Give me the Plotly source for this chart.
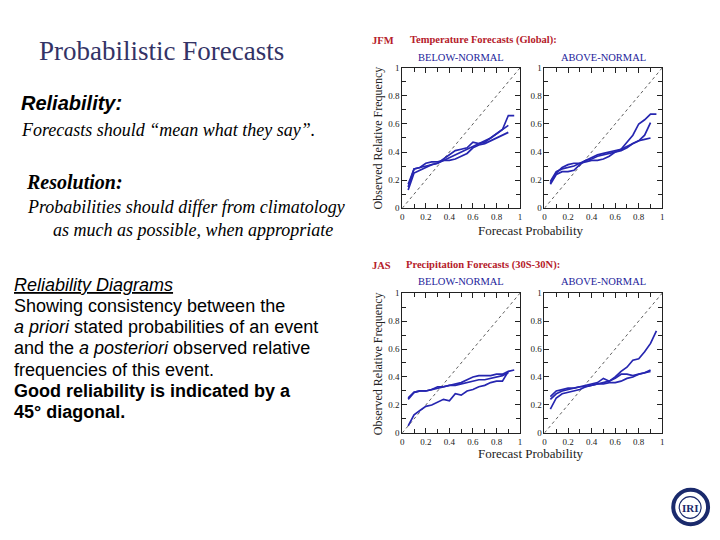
import plotly.graph_objects as go

# ---------------- data ----------------
prob_tick_vals = [0, 0.2, 0.4, 0.6, 0.8, 1]
prob_tick_text = ["0", "0.2", "0.4", "0.6", "0.8", "1"]
diagonal = [0, 1]

x_base = [0.05, 0.1, 0.15, 0.2, 0.25, 0.3, 0.35, 0.4, 0.45, 0.5, 0.55,
          0.6, 0.65, 0.7, 0.75, 0.8, 0.85, 0.9]
x_ext = x_base + [0.95]

# JFM Temperature, below-normal
jfm_below_1 = [0.17, 0.28, 0.29, 0.30, 0.31, 0.32, 0.34, 0.36, 0.38, 0.40, 0.42,
               0.44, 0.46, 0.48, 0.50, 0.53, 0.56, 0.66, 0.66]
jfm_below_2 = [0.13, 0.25, 0.27, 0.29, 0.31, 0.32, 0.35, 0.38, 0.41, 0.42, 0.43,
               0.47, 0.46, 0.47, 0.50, 0.53, 0.56, 0.59]
jfm_below_3 = [0.15, 0.28, 0.29, 0.32, 0.33, 0.33, 0.34, 0.34, 0.35, 0.37, 0.39,
               0.43, 0.45, 0.46, 0.48, 0.50, 0.52, 0.54]

# JFM Temperature, above-normal
jfm_above_1 = [0.19, 0.26, 0.28, 0.29, 0.30, 0.32, 0.34, 0.36, 0.38, 0.39, 0.40,
               0.41, 0.42, 0.47, 0.52, 0.60, 0.63, 0.67, 0.67]
jfm_above_2 = [0.17, 0.24, 0.26, 0.26, 0.27, 0.31, 0.34, 0.35, 0.37, 0.38, 0.39,
               0.40, 0.41, 0.43, 0.46, 0.48, 0.52, 0.61]
jfm_above_3 = [0.18, 0.25, 0.29, 0.31, 0.32, 0.32, 0.33, 0.34, 0.34, 0.35, 0.37,
               0.40, 0.42, 0.44, 0.46, 0.48, 0.49, 0.50]

# JAS Precipitation, below-normal
jas_below_1 = [0.25, 0.29, 0.30, 0.30, 0.31, 0.33, 0.33, 0.34, 0.35, 0.36, 0.38,
               0.40, 0.41, 0.41, 0.41, 0.42, 0.42, 0.44, 0.45]
jas_below_2 = [0.24, 0.29, 0.30, 0.30, 0.31, 0.32, 0.33, 0.34, 0.34, 0.35, 0.36,
               0.37, 0.38, 0.38, 0.39, 0.40, 0.41, 0.43]
jas_below_3 = [0.05, 0.13, 0.16, 0.19, 0.20, 0.22, 0.24, 0.23, 0.28, 0.27, 0.30,
               0.31, 0.33, 0.34, 0.36, 0.37, 0.37, 0.44]

# JAS Precipitation, above-normal
jas_above_1 = [0.17, 0.25, 0.28, 0.29, 0.30, 0.31, 0.33, 0.34, 0.35, 0.36, 0.37,
               0.40, 0.44, 0.47, 0.52, 0.53, 0.58, 0.64, 0.73]
jas_above_2 = [0.24, 0.28, 0.30, 0.31, 0.32, 0.33, 0.34, 0.35, 0.36, 0.39, 0.37,
               0.39, 0.42, 0.42, 0.41, 0.42, 0.43, 0.45]
jas_above_3 = [0.26, 0.30, 0.31, 0.32, 0.32, 0.33, 0.33, 0.34, 0.35, 0.35, 0.36,
               0.36, 0.37, 0.39, 0.40, 0.42, 0.43, 0.44]

panels = [
    ("x", "y", [(x_ext, jfm_below_1), (x_base, jfm_below_2), (x_base, jfm_below_3)]),
    ("x2", "y2", [(x_ext, jfm_above_1), (x_base, jfm_above_2), (x_base, jfm_above_3)]),
    ("x3", "y3", [(x_ext, jas_below_1), (x_base, jas_below_2), (x_base, jas_below_3)]),
    ("x4", "y4", [(x_ext, jas_above_1), (x_base, jas_above_2), (x_base, jas_above_3)]),
]

# ---------------- figure ----------------
W, H = 720, 540
LINE_BLUE = "#2626b0"

fig = go.Figure()
for xa, ya, curves in panels:
    fig.add_trace(go.Scatter(x=diagonal, y=diagonal, xaxis=xa, yaxis=ya, mode="lines",
                             line=dict(color="#333333", width=0.8, dash="dot"),
                             showlegend=False, hoverinfo="skip"))
    for cx, cy in curves:
        fig.add_trace(go.Scatter(x=cx, y=cy, xaxis=xa, yaxis=ya, mode="lines",
                                 line=dict(color=LINE_BLUE, width=1.7),
                                 showlegend=False))


def px_x(p):
    return p / W


def px_y(p):
    return 1 - p / H


def axis(domain, anchor):
    return dict(domain=domain, anchor=anchor, range=[0, 1], showgrid=False, zeroline=False,
                showline=True, linecolor="#222222", linewidth=1, mirror="ticks",
                ticks="inside", ticklen=5, tickcolor="#222222", tickwidth=1,
                tickvals=prob_tick_vals, ticktext=prob_tick_text,
                tickfont=dict(family="Liberation Serif", size=9, color="#222222"),
                minor=dict(dtick=0.1, tick0=0, ticks="inside", ticklen=4,
                           tickcolor="#222222", tickwidth=1),
                fixedrange=True)


xl = [px_x(402.5), px_x(521)]
xr = [px_x(545.5), px_x(664)]
yt = [px_y(207), px_y(64)]
yb = [px_y(436), px_y(293.5)]

fig.update_layout(
    width=W, height=H, margin=dict(l=0, r=0, t=0, b=0),
    paper_bgcolor="white", plot_bgcolor="white",
    xaxis=axis(xl, "y"), yaxis=axis(yt, "x"),
    xaxis2=axis(xr, "y2"), yaxis2=axis(yt, "x2"),
    xaxis3=axis(xl, "y3"), yaxis3=axis(yb, "x3"),
    xaxis4=axis(xr, "y4"), yaxis4=axis(yb, "x4"),
)

ann = []


def text(x, y, s, size, family, color="black", xanchor="left", angle=0):
    ann.append(dict(x=px_x(x), y=px_y(y), xref="paper", yref="paper", text=s,
                    showarrow=False, xanchor=xanchor, yanchor="middle", textangle=angle,
                    font=dict(size=size, family=family, color=color)))


SERIF = "Liberation Serif"
SANS = "Liberation Sans"

# left-hand slide text
text(35, 47, "Probabilistic Forecasts", 27, SERIF, "#333366")
text(17, 100, "<b><i>Reliability:</i></b>", 20, SANS)
text(17, 127, "<i>Forecasts should \u201cmean what they say\u201d.</i>", 18, SERIF)
text(22, 180, "<b><i>Resolution:</i></b>", 20, SERIF)
text(23, 206, "<i>Probabilities should differ from climatology</i>", 18, SERIF)
text(49, 229, "<i>as much as possible, when appropriate</i>", 18, SERIF)

body_lines = [
    "<i><u>Reliability Diagrams</u></i>",
    "Showing consistency between the",
    "<i>a priori</i> stated probabilities of an event",
    "and the <i>a posteriori</i> observed relative",
    "frequencies of this event.",
    "<b>Good reliability is indicated by a</b>",
    "<b>45\u00b0 diagonal.</b>",
]
for i, line in enumerate(body_lines):
    text(10, 285 + i * 21.6, line, 18, SANS)

# chart headers
RED = "#b5202a"
NAVY_T = "#1c1c9a"
text(370, 36, "<b>JFM</b>", 10.5, SERIF, RED)
text(408, 36, "<b>Temperature Forecasts (Global):</b>", 10.5, SERIF, RED)
text(462, 53, "BELOW-NORMAL", 10.5, SERIF, NAVY_T, "center")
text(605, 53, "ABOVE-NORMAL", 10.5, SERIF, NAVY_T, "center")
text(378, 135, "Observed Relative Frequency", 12, SERIF, "#222222", "center", -90)
text(532, 230, "Forecast Probability", 13, SERIF, "#222222", "center")

text(370, 265, "<b>JAS</b>", 10.5, SERIF, RED)
text(404, 265, "<b>Precipitation Forecasts (30S-30N):</b>", 10.5, SERIF, RED)
text(462, 282, "BELOW-NORMAL", 10.5, SERIF, NAVY_T, "center")
text(605, 282, "ABOVE-NORMAL", 10.5, SERIF, NAVY_T, "center")
text(378, 365, "Observed Relative Frequency", 12, SERIF, "#222222", "center", -90)
text(532, 457, "Forecast Probability", 13, SERIF, "#222222", "center")

# IRI logo
text(692, 512, "<b>IRI</b>", 11, SERIF, "#1a2a6c", "center")
fig.update_layout(annotations=ann, shapes=[
    dict(type="circle", xref="paper", yref="paper",
         x0=px_x(675), x1=px_x(710), y0=px_y(529), y1=px_y(494),
         line=dict(color="#1a2a6c", width=4)),
    dict(type="circle", xref="paper", yref="paper",
         x0=px_x(681), x1=px_x(703), y0=px_y(523), y1=px_y(501),
         line=dict(color="#1a2a6c", width=1.2)),
])

fig.write_html("out.html", config={"displayModeBar": False},
               post_script="document.body.style.margin='0';document.body.style.overflow='hidden';")
